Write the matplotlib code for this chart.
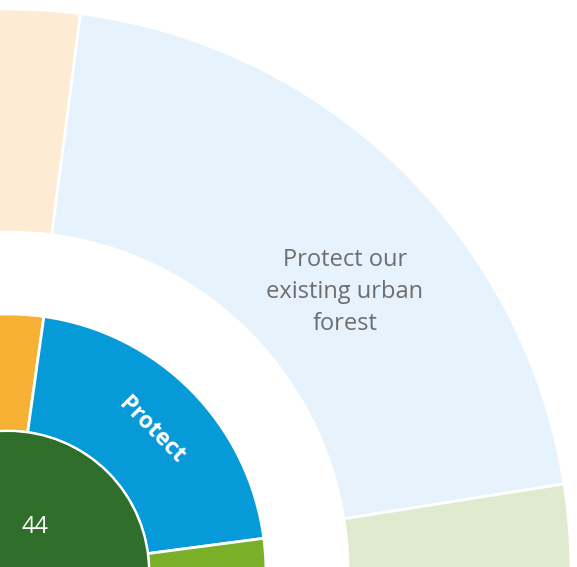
import matplotlib
matplotlib.use("Agg")
import matplotlib.pyplot as plt
from matplotlib.patches import Wedge, Circle
import numpy as np

# Sunburst (partial view) data: angle boundaries in degrees
outer_labels = ["", "Protect our\nexisting urban\nforest", ""]
outer_start = [82.6, 9.0, -40.0]
outer_end = [140.0, 82.6, 9.0]
outer_colors = ["#fdebd3", "#e6f2fc", "#e0eacf"]

inner_labels = ["", "Protect", ""]
inner_start = [82.0, 7.5, -40.0]
inner_end = [140.0, 82.0, 7.5]
inner_colors = ["#f6b034", "#069ad9", "#7aaf2a"]

core_color = "#2f6e2b"
page_number = "44"

W, H = 577, 567
cx, cy = 8, -5
r_core = 141
r_inner = 258
r_outer_in = 340
r_outer = 563

fig = plt.figure(figsize=(W / 100, H / 100), dpi=100)
ax = fig.add_axes([0, 0, 1, 1])
ax.set_xlim(0, W)
ax.set_ylim(0, H)
ax.axis("off")

for s, e, c in zip(outer_start, outer_end, outer_colors):
    ax.add_patch(Wedge((cx, cy), r_outer, s, e, width=r_outer - r_outer_in,
                       facecolor=c, edgecolor="white", linewidth=2))
for s, e, c in zip(inner_start, inner_end, inner_colors):
    ax.add_patch(Wedge((cx, cy), r_inner, s, e, width=r_inner - r_core,
                       facecolor=c, edgecolor="white", linewidth=2))
ax.add_patch(Circle((cx, cy), r_core, facecolor=core_color, edgecolor="white", linewidth=1.5))

# labels
for s, e, lab in zip(outer_start, outer_end, outer_labels):
    if lab:
        ax.text(345, 567 - 292, lab, ha="center", va="center", color="#6e6e6e",
                fontsize=17, family="Open Sans", linespacing=1.45)
for s, e, lab in zip(inner_start, inner_end, inner_labels):
    if lab:
        mid = np.deg2rad((s + e) / 2)
        r = (r_core + r_inner) / 2 + 2
        ax.text(cx + r * np.cos(mid), cy + r * np.sin(mid), lab, ha="center", va="center",
                color="white", fontsize=16.5, family="Open Sans", fontweight="bold",
                rotation=np.rad2deg(mid) - 90)

ax.text(35, 567 - 527, page_number, ha="center", va="center", color="white",
        fontsize=17, family="Open Sans")

fig.savefig("out.png", dpi=100)
